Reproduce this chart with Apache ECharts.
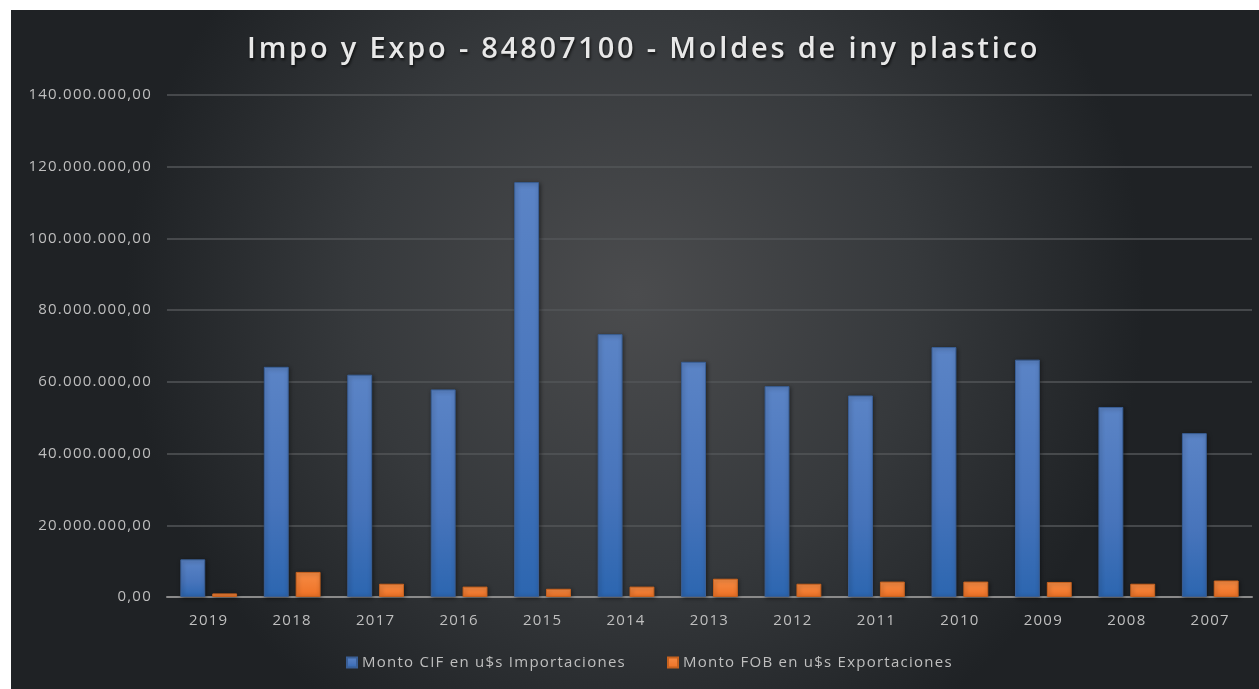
<!DOCTYPE html>
<html>
<head>
<meta charset="utf-8">
<script src="https://cdn.jsdelivr.net/npm/echarts@6/dist/echarts.min.js"></script>
<style>
html,body{margin:0;padding:0;background:#ffffff;}
#chart{position:absolute;left:11px;top:10px;width:1248px;height:679px;}
</style>
</head>
<body>
<div id="chart"></div>
<script>
const titleText = 'Impo y Expo - 84807100 - Moldes de iny plastico';
const categories = ['2019','2018','2017','2016','2015','2014','2013','2012','2011','2010','2009','2008','2007'];
const importsCIF = [10500000, 64200000, 62000000, 57900000, 115700000, 73300000, 65600000, 58800000, 56200000, 69700000, 66200000, 53000000, 45700000];
const exportsFOB = [1000000, 7000000, 3700000, 2900000, 2300000, 2900000, 5100000, 3700000, 4300000, 4300000, 4200000, 3700000, 4600000];
const seriesNames = ['Monto CIF en u$s Importaciones', 'Monto FOB en u$s Exportaciones'];
const yMin = 0, yMax = 140000000, yInterval = 20000000;

// Spaced lettering like the original (canvas letterSpacing, text stays intact)
(function(){
  const proto = CanvasRenderingContext2D.prototype;
  if (!('letterSpacing' in proto)) return;
  const orig = proto.fillText;
  proto.fillText = function(text, x, y, maxWidth){
    const prev = this.letterSpacing;
    this.letterSpacing = (text === titleText) ? '2.8px' : '1.25px';
    const r = (maxWidth === undefined) ? orig.call(this, text, x, y) : orig.call(this, text, x, y, maxWidth);
    this.letterSpacing = prev;
    return r;
  };
})();

function fmtEs(v){
  const s = Math.round(v).toString().replace(/\B(?=(\d{3})+(?!\d))/g, '.');
  return s + ',00';
}

const chart = echarts.init(document.getElementById('chart'));
const labelColor = '#bfbfbf';
const labelFont = {color: labelColor, fontSize: 15, fontFamily: 'Open Sans'};
chart.setOption({
  backgroundColor: new echarts.graphic.RadialGradient(0.5, 0.42, 0.75, [
    {offset: 0, color: '#4b4c4e'},
    {offset: 0.55, color: '#36393c'},
    {offset: 1, color: '#1f2225'}
  ]),
  animation: false,
  title: {
    text: titleText,
    left: 231,
    top: 20,
    textStyle: {
      color: '#e8e8e8',
      fontSize: 29,
      fontWeight: 600,
      fontFamily: 'Open Sans',
      textShadowColor: 'rgba(0,0,0,0.7)',
      textShadowBlur: 3,
      textShadowOffsetX: 1,
      textShadowOffsetY: 2
    }
  },
  legend: [
    {
      bottom: 14, left: 330,
      itemWidth: 10, itemHeight: 10, icon: 'rect',
      textStyle: labelFont,
      data: [seriesNames[0]]
    },
    {
      bottom: 14, left: 651,
      itemWidth: 10, itemHeight: 10, icon: 'rect',
      textStyle: labelFont,
      data: [seriesNames[1]]
    }
  ],
  grid: {left: 156, right: 7, top: 85, bottom: 92},
  xAxis: {
    type: 'category',
    data: categories,
    axisLine: {lineStyle: {color: '#8a8a8a', width: 2}},
    axisTick: {show: false},
    axisLabel: Object.assign({margin: 16}, labelFont)
  },
  yAxis: {
    type: 'value',
    min: yMin,
    max: yMax,
    interval: yInterval,
    axisLine: {show: false},
    axisTick: {show: false},
    splitLine: {lineStyle: {color: '#535659', width: 1.5}},
    axisLabel: Object.assign({margin: 15, formatter: fmtEs}, labelFont)
  },
  series: [
    {
      name: seriesNames[0],
      type: 'bar',
      data: importsCIF,
      barGap: '28%',
      barCategoryGap: '32%',
      itemStyle: {
        color: new echarts.graphic.LinearGradient(0, 0, 0, 1, [
          {offset: 0, color: '#5b84c6'},
          {offset: 0.6, color: '#4774bb'},
          {offset: 1, color: '#2c66b0'}
        ]),
        borderColor: '#3a5f96',
        borderWidth: 1,
        shadowColor: 'rgba(0,0,0,0.45)',
        shadowBlur: 4,
        shadowOffsetX: 1,
        shadowOffsetY: 1
      }
    },
    {
      name: seriesNames[1],
      type: 'bar',
      data: exportsFOB,
      itemStyle: {
        color: new echarts.graphic.LinearGradient(0, 0, 0, 1, [
          {offset: 0, color: '#f68c45'},
          {offset: 1, color: '#ee7125'}
        ]),
        borderColor: '#c7621f',
        borderWidth: 1,
        shadowColor: 'rgba(0,0,0,0.45)',
        shadowBlur: 4,
        shadowOffsetX: 1,
        shadowOffsetY: 1
      }
    }
  ]
});
</script>
</body>
</html>
